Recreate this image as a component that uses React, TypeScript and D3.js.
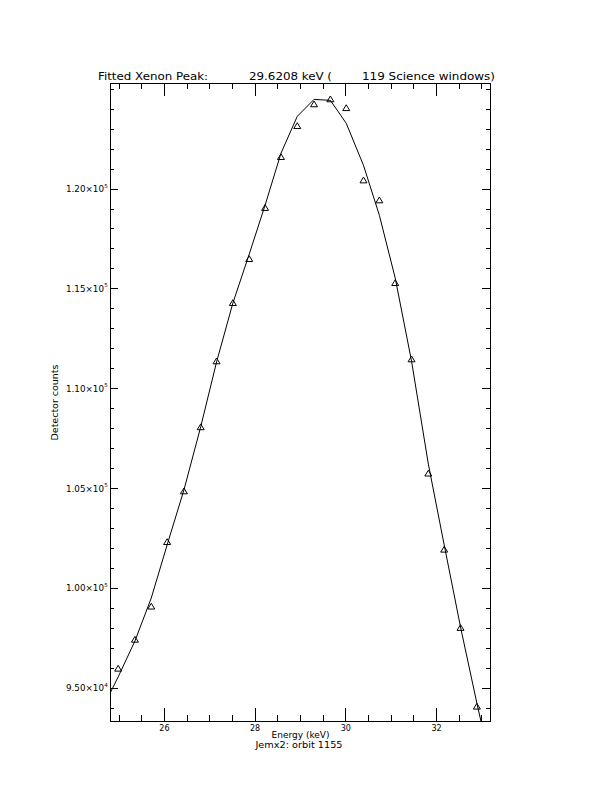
import React from "react";
import * as d3 from "d3";

const energy = [24.98, 25.35, 25.71, 26.06, 26.43, 26.80, 27.15, 27.51, 27.87, 28.22, 28.57, 28.93, 29.30, 29.66, 30.01, 30.39, 30.74, 31.09, 31.45, 31.82, 32.17, 32.53, 32.89];
const counts = [96000, 97450, 99110, 102340, 104880, 108090, 111390, 114310, 116510, 119070, 121620, 123170, 124260, 124510, 124070, 120450, 119450, 115310, 111490, 105770, 101960, 98040, 94100];

const fitEnergy = [24.80, 24.98, 25.35, 25.71, 26.06, 26.43, 26.80, 27.15, 27.51, 27.87, 28.22, 28.57, 28.93, 29.30, 29.66, 30.01, 30.39, 30.74, 31.09, 31.45, 31.82, 32.17, 32.53, 32.89, 32.98];
const fitCounts = [94750, 95570, 97370, 99520, 102180, 104930, 108090, 111340, 114290, 116740, 119190, 121790, 123640, 124490, 124440, 123290, 121190, 118690, 115540, 111380, 106230, 102180, 98070, 94260, 93360];

const xMajorTicks = [26, 28, 30, 32];
const xTickLabels = ["26", "28", "30", "32"];
const yMajorTicks = [95000, 100000, 105000, 110000, 115000, 120000];
const yTickMantissa = ["9.50×10", "1.00×10", "1.05×10", "1.10×10", "1.15×10", "1.20×10"];
const yTickExponent = ["4", "5", "5", "5", "5", "5"];

const titleParts = ["Fitted Xenon Peak:", "29.6208 keV (", "119 Science windows)"];
const xTitle = "Energy (keV)";
const subTitle = "Jemx2: orbit 1155";
const yTitle = "Detector counts";

const W = 612, H = 792;
const L = 110, R = 490, T = 83, B = 721;
const FONT = "'DejaVu Sans', sans-serif";

export default function App() {
  const x = d3.scaleLinear().domain([24.8, 33.18]).range([L, R]);
  const y = d3.scaleLinear().domain([93363, 125310]).range([B, T]);

  const xMinor = d3.range(25, 33.01, 0.5).filter(v => !xMajorTicks.includes(v));
  const yMinor = d3.range(94000, 125001, 1000).filter(v => !yMajorTicks.includes(v));

  const line = d3.line<number>().x((_, i) => x(fitEnergy[i])).y(d => y(d));
  const curvePath = line(fitCounts) || "";

  const xMajLen = 12.8, xMinLen = 6.4, yMajLen = 7.6, yMinLen = 3.8;

  const tri = (cx: number, cy: number) =>
    `M${cx - 3.5},${cy + 2.8}L${cx},${cy - 3}L${cx + 3.5},${cy + 2.8}Z`;

  return (
    <svg width={W} height={H} style={{ position: "absolute", left: 0, top: 0, background: "#fff" }}>
      <rect x={0} y={0} width={W} height={H} fill="#fff" />
      <defs>
        <clipPath id="plotClip">
          <rect x={L} y={T} width={R - L} height={B - T} />
        </clipPath>
      </defs>

      {/* frame */}
      <rect x={L} y={T} width={R - L} height={B - T} fill="none" stroke="#000" strokeWidth={1} shapeRendering="crispEdges" />

      {/* x ticks */}
      <g stroke="#000" strokeWidth={1} shapeRendering="crispEdges">
        {xMajorTicks.map(v => (
          <g key={"xm" + v}>
            <line x1={x(v)} x2={x(v)} y1={B} y2={B - xMajLen} />
            <line x1={x(v)} x2={x(v)} y1={T} y2={T + xMajLen} />
          </g>
        ))}
        {xMinor.map(v => (
          <g key={"xn" + v}>
            <line x1={x(v)} x2={x(v)} y1={B} y2={B - xMinLen} />
            <line x1={x(v)} x2={x(v)} y1={T} y2={T + xMinLen} />
          </g>
        ))}
        {yMajorTicks.map(v => (
          <g key={"ym" + v}>
            <line x1={L} x2={L + yMajLen} y1={y(v)} y2={y(v)} />
            <line x1={R} x2={R - yMajLen} y1={y(v)} y2={y(v)} />
          </g>
        ))}
        {yMinor.map(v => (
          <g key={"yn" + v}>
            <line x1={L} x2={L + yMinLen} y1={y(v)} y2={y(v)} />
            <line x1={R} x2={R - yMinLen} y1={y(v)} y2={y(v)} />
          </g>
        ))}
      </g>

      {/* fit curve */}
      <path d={curvePath} fill="none" stroke="#000" strokeWidth={1} clipPath="url(#plotClip)" />

      {/* data points */}
      <g fill="none" stroke="#000" strokeWidth={1}>
        {counts.map((c, i) => (
          <path key={"p" + i} d={tri(x(energy[i]), y(c))} />
        ))}
      </g>

      {/* x tick labels */}
      <g fontFamily={FONT} fontSize={8} fill="#000" textAnchor="middle">
        {xMajorTicks.map((v, i) => (
          <text key={"xl" + v} x={x(v)} y={731}>{xTickLabels[i]}</text>
        ))}
      </g>

      {/* y tick labels */}
      <g fontFamily={FONT} fill="#000">
        {yMajorTicks.map((v, i) => (
          <g key={"yl" + v}>
            <text x={104} y={y(v) + 3} fontSize={8} textAnchor="end" textLength={38} lengthAdjust="spacingAndGlyphs">{yTickMantissa[i]}</text>
            <text x={104.3} y={y(v) - 1.5} fontSize={5.5}>{yTickExponent[i]}</text>
          </g>
        ))}
      </g>

      {/* title */}
      <g fontFamily={FONT} fontSize={10} fill="#000">
        <text x={98} y={80} textLength={110} lengthAdjust="spacingAndGlyphs">{titleParts[0]}</text>
        <text x={249} y={80} textLength={83} lengthAdjust="spacingAndGlyphs">{titleParts[1]}</text>
        <text x={362} y={80} textLength={133} lengthAdjust="spacingAndGlyphs">{titleParts[2]}</text>
      </g>

      {/* axis titles */}
      <g fontFamily={FONT} fontSize={8} fill="#000" textAnchor="middle">
        <text x={300.5} y={738} textLength={58} lengthAdjust="spacingAndGlyphs">{xTitle}</text>
        <text x={299} y={748} textLength={87} lengthAdjust="spacingAndGlyphs">{subTitle}</text>
        <text transform={`translate(57.5,402.5) rotate(-90)`} textLength={76} lengthAdjust="spacingAndGlyphs">{yTitle}</text>
      </g>
    </svg>
  );
}
